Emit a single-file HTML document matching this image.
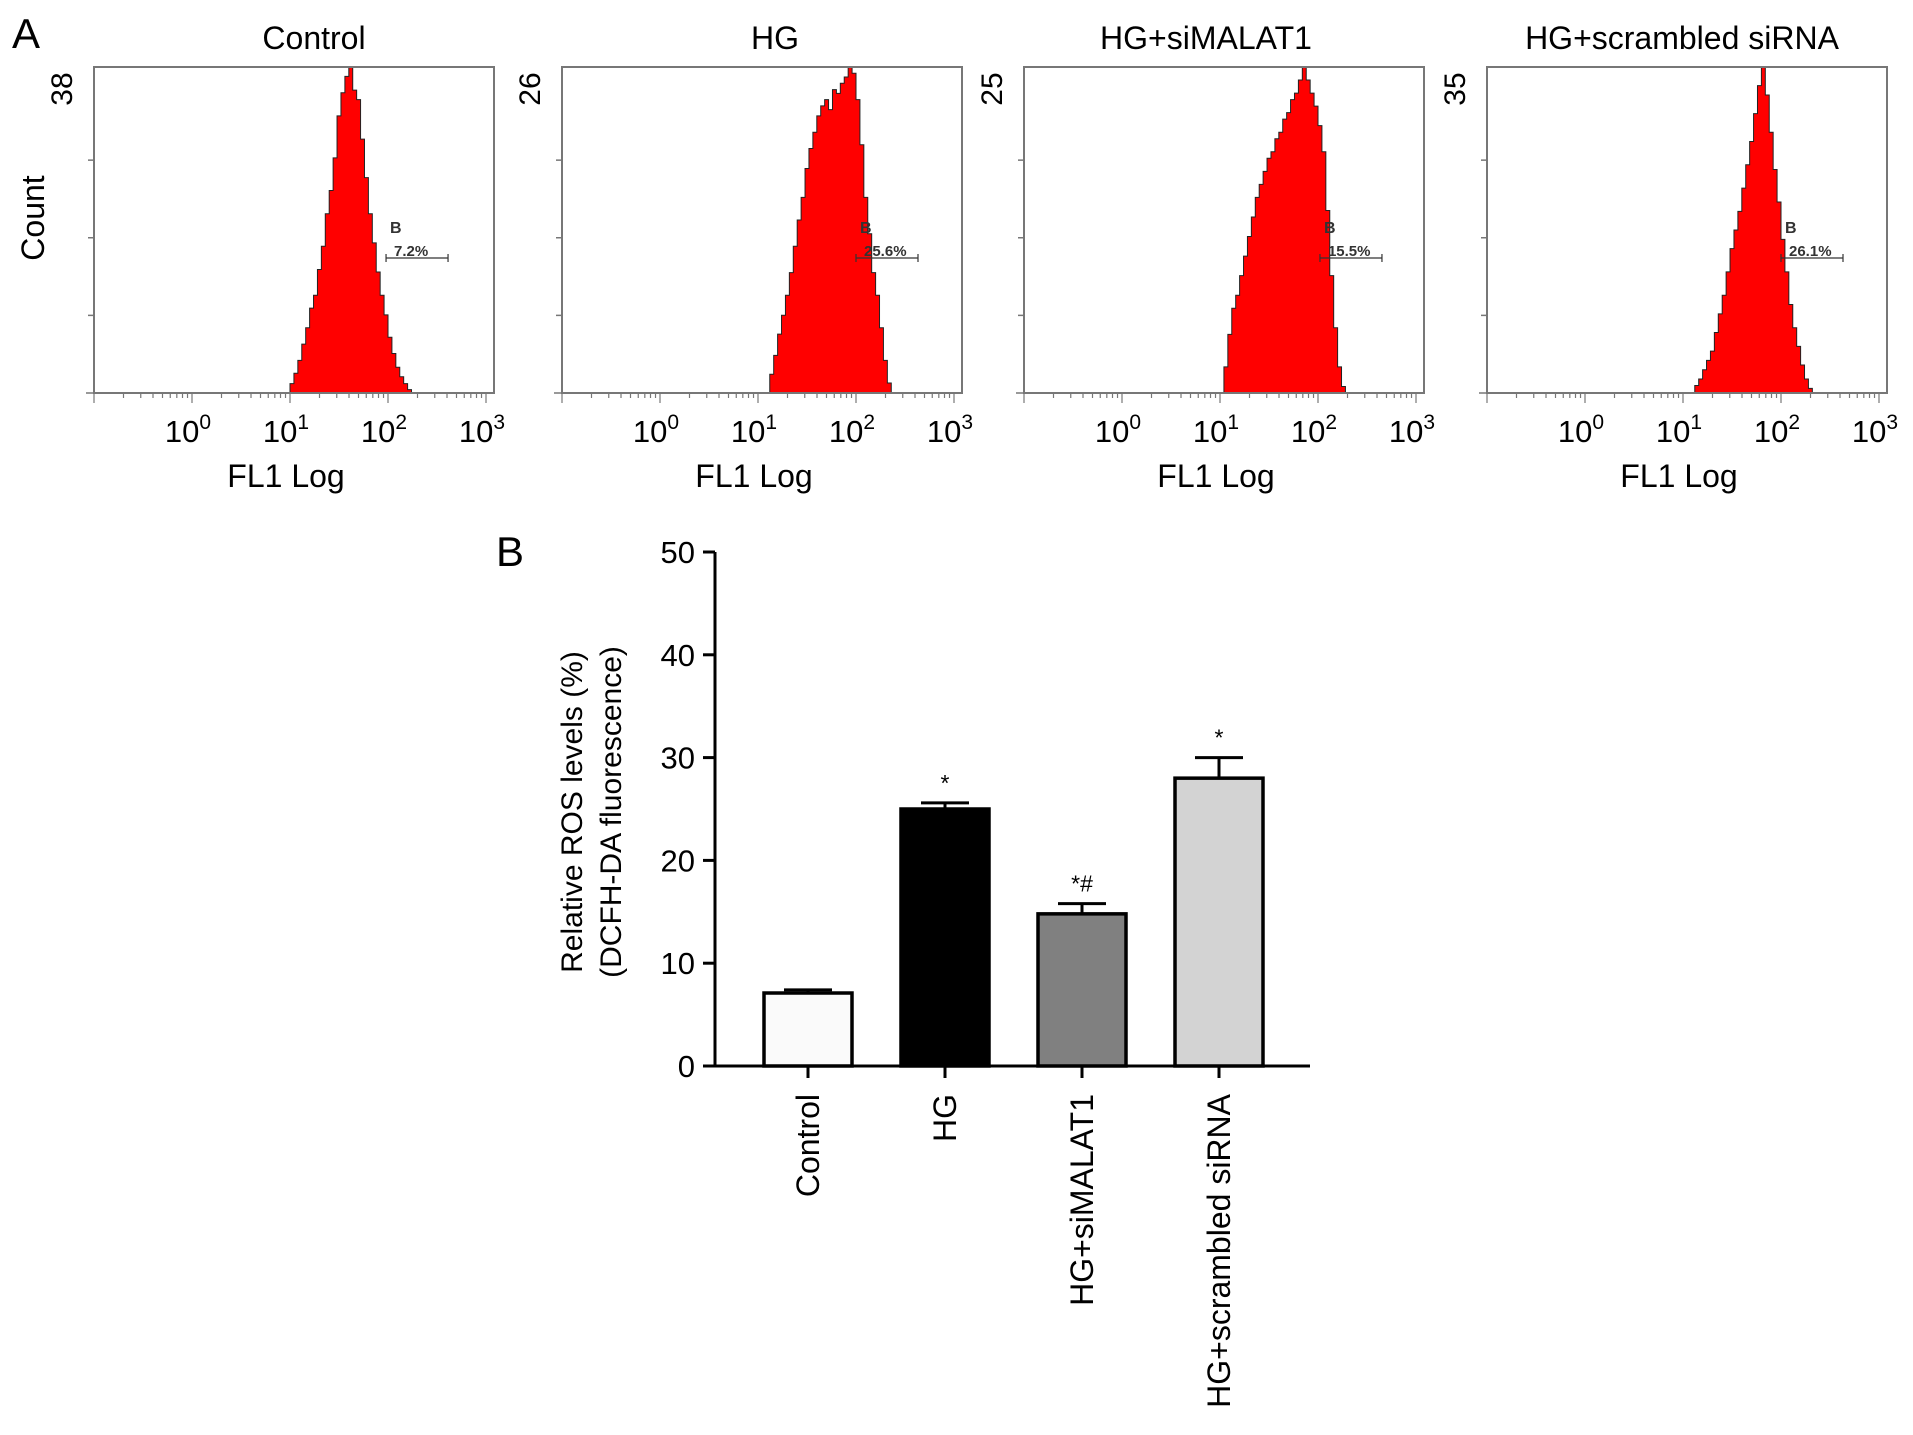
<!DOCTYPE html>
<html><head><meta charset="utf-8"><style>
body{margin:0;background:#fff;}
svg{display:block;font-family:"Liberation Sans",Arial,sans-serif;}
</style></head><body>
<svg id="fig" width="1913" height="1435" viewBox="0 0 1913 1435"></svg>
<script>
const NS='http://www.w3.org/2000/svg';
const svg=document.getElementById('fig');
// ---- Panel A data ----
const histTitles=['Control','HG','HG+siMALAT1','HG+scrambled siRNA'];
const histMax=[38,26,25,35];
const histGate=['7.2%','25.6%','15.5%','26.1%'];
const histStart=[0.96,1.08,1.0,1.08];
const binStep=0.04;
const histControl=[0,1.1,2.3,3.8,5.7,7.6,9.9,11.4,14.4,17.1,20.9,23.6,27.4,32.3,35,36.9,38,35.3,34.2,29.6,25.1,20.9,17.5,14.1,11.4,9.1,6.5,4.6,3,1.9,1.1,0.4,0];
const histHG=[0,1.5,3,4.7,6.2,7.8,9.6,11.7,13.8,15.6,17.9,19.5,20.8,22.1,22.9,23.4,22.6,24.2,23.9,24.7,25.2,26,25.5,23.4,19.8,15.6,12.7,9.6,7.8,5.2,2.6,0.8,0];
const histSi=[0,2,4.5,6.5,7.5,9,10.5,12,13.5,15,16,17,18,18.5,19.5,20,21,21.5,22.5,23,24,25,24,23,22,20.5,18.5,14,9,5,2,0.5,0];
const histScr=[0,0.8,1.5,2.5,3.5,4.5,6.5,8.5,10.5,13,15.5,17.5,19.5,22,24.5,27,30,33,35,32,28,24,20.5,16.5,13,9.5,7,5,3,1.5,0.5,0];
const histData=[histControl,histHG,histSi,histScr];
const gateLog=[1.98,2.0,2.02,2.0];
// ---- Panel B data ----
const barCats=['Control','HG','HG+siMALAT1','HG+scrambled siRNA'];
const barVals=[7.1,25,14.8,28];
const barErr=[0.3,0.6,1.0,2.0];
const barSig=['','*','*#','*'];
const barColors=['#fafafa','#000','#808080','#d3d3d3'];
const yTicks=[0,10,20,30,40,50];

function el(tag,attrs,parent,text){const e=document.createElementNS(NS,tag);for(const k in attrs)e.setAttribute(k,attrs[k]);if(text!==undefined)e.textContent=text;(parent||svg).appendChild(e);return e;}

let t=el('text',{x:12,y:48,'font-size':42},svg,'A');



const boxL=[94,562,1024,1487], boxW=400, boxT=67, boxB=393;
const titleX=[314,775,1206,1682];
const dec=98;
for(let p=0;p<4;p++){
  const g=el('g',{});
  
  
  const x0=boxL[p];
  const xs=v=>x0+(v+1)*dec;
  const ys=c=>boxB-(c/histMax[p])*(boxB-boxT);
  let d='M'+xs(histStart[p])+','+boxB;
  histData[p].forEach((c,i)=>{const lx=xs(histStart[p]+i*binStep);d+=' L'+lx+','+ys(c)+' L'+(lx+binStep*dec)+','+ys(c);});
  d+=' L'+xs(histStart[p]+histData[p].length*binStep)+','+boxB+' Z';
  const h=el('path',{d:d,fill:'#f00',stroke:'#222','stroke-width':1},g);
  
  
  const b=el('rect',{x:x0,y:boxT,width:boxW,height:boxB-boxT,fill:'none',stroke:'#777','stroke-width':2},g);
  
  
  const tt=el('text',{x:titleX[p],y:49,'font-size':32,'text-anchor':'middle'},g,histTitles[p]);
  
  
  const ym=el('text',{x:0,y:0,'font-size':30,'text-anchor':'middle',transform:'translate('+(x0-22)+','+(boxT+22)+') rotate(-90)'},g,String(histMax[p]));
  
  
  for(let k=1;k<4;k++){const yy=boxB-k*(boxB-boxT)/4.2;el('line',{x1:x0-6,x2:x0,y1:yy,y2:yy,stroke:'#777','stroke-width':1.5},g);}
  el('line',{x1:x0-8,x2:x0,y1:boxB,y2:boxB,stroke:'#777','stroke-width':1.5},g);
  for(let e=-1;e<3;e++){for(let m=1;m<10;m++){const v=e+Math.log10(m);const xx=xs(v);el('line',{x1:xx,x2:xx,y1:boxB,y2:boxB+(m==1?10:5),stroke:'#777','stroke-width':1.2},g);}}
  el('line',{x1:xs(3),x2:xs(3),y1:boxB,y2:boxB+10,stroke:'#777','stroke-width':1.2},g);
  for(let e=0;e<=3;e++){
    const tl=el('text',{x:xs(e)-4,y:442,'font-size':31,'text-anchor':'middle'},g);
    
    
    el('tspan',{},tl,'10');el('tspan',{dy:-13,'font-size':21},tl,String(e));
  }
  const xl=el('text',{x:x0+192,y:487,'font-size':32,'text-anchor':'middle'},g,'FL1 Log');
  
  
  const gx=xs(gateLog[p]);
  el('line',{x1:gx,x2:gx+62,y1:258,y2:258,stroke:'#333','stroke-width':1.2},g);
  el('line',{x1:gx,x2:gx,y1:254,y2:262,stroke:'#333','stroke-width':1.2},g);
  el('line',{x1:gx+62,x2:gx+62,y1:254,y2:262,stroke:'#333','stroke-width':1.2},g);
  const gb=el('text',{x:gx+4,y:233,'font-size':16,'font-weight':'bold',fill:'#333'},g,'B');
  
  
  const gp=el('text',{x:gx+8,y:256,'font-size':15,'font-weight':'bold',fill:'#333'},g,histGate[p]);
  
  
}
t=el('text',{x:0,y:0,'font-size':32,'text-anchor':'middle',transform:'translate(44,218) rotate(-90)'},svg,'Count');



// ---- Panel B ----
t=el('text',{x:496,y:566,'font-size':42},svg,'B');


const ax=715, y0=1066, y50=552, xEnd=1310;
const yB=v=>y0-(v/50)*(y0-y50);
const gB=el('g',{});


el('line',{x1:ax,x2:ax,y1:y50,y2:y0+1.5,stroke:'#000','stroke-width':3},gB);
el('line',{x1:ax-1.5,x2:xEnd,y1:y0,y2:y0,stroke:'#000','stroke-width':3},gB);
yTicks.forEach(v=>{
  el('line',{x1:ax-12,x2:ax,y1:yB(v),y2:yB(v),stroke:'#000','stroke-width':3},gB);
  const l=el('text',{x:ax-20,y:yB(v)+11,'font-size':31,'text-anchor':'end'},gB,String(v));
  
  
});
const bw=88, step=137, firstC=808;
barVals.forEach((v,i)=>{
  const cx=firstC+i*step;
  const ey=yB(v+barErr[i]);
  el('line',{x1:cx,x2:cx,y1:ey,y2:yB(v),stroke:'#000','stroke-width':3},gB);
  el('line',{x1:cx-24,x2:cx+24,y1:ey,y2:ey,stroke:'#000','stroke-width':3},gB);
  const r=el('rect',{x:cx-bw/2,y:yB(v),width:bw,height:y0-yB(v),fill:barColors[i],stroke:'#000','stroke-width':3.5},gB);
  
  
  if(barSig[i]){const s=el('text',{x:cx,y:ey-12,'font-size':23,'text-anchor':'middle'},gB,barSig[i]);
    
    }
  el('line',{x1:cx,x2:cx,y1:y0,y2:y0+12,stroke:'#000','stroke-width':3},gB);
  const xl=el('text',{x:0,y:0,'font-size':32,'text-anchor':'end',transform:'translate('+(cx+11)+','+(y0+28)+') rotate(-90)'},gB,barCats[i]);
  
  
});
t=el('text',{x:0,y:0,'font-size':30,'text-anchor':'middle',transform:'translate(582,812) rotate(-90)'},svg,'Relative ROS levels (%)');


t=el('text',{x:0,y:0,'font-size':30,'text-anchor':'middle',transform:'translate(621,812) rotate(-90)'},svg,'(DCFH-DA fluorescence)');


</script>
</body></html>
